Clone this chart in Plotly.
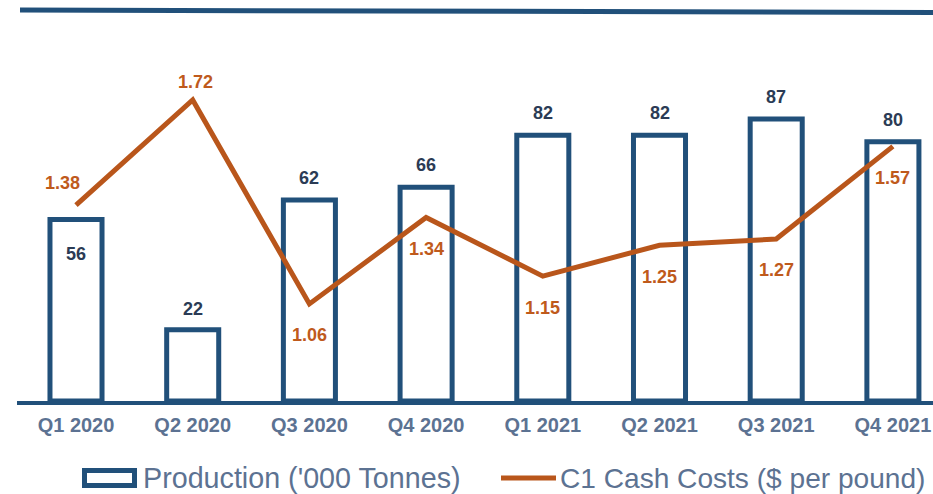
import plotly.graph_objects as go

quarters = ["Q1 2020", "Q2 2020", "Q3 2020", "Q4 2020", "Q1 2021", "Q2 2021", "Q3 2021", "Q4 2021"]
production = [56, 22, 62, 66, 82, 82, 87, 80]
cash_costs = [1.38, 1.72, 1.06, 1.34, 1.15, 1.25, 1.27, 1.57]

# label placement (style only)
prod_label_shift = [-34, 21, 22, 22, 22, 22, 22, 22]
cost_label_shift = [22, 18, -31, -32, -32, -32, -31, -32]
cost_label_xshift = [-14, 3, 0, 0, 0, 0, 0, 0]

NAVY = "#21507a"
ORANGE = "#b9561b"
LABEL_NAVY = "#2b3b55"
LABEL_ORANGE = "#bf5a1c"
GREY = "#5c7292"
FONT = "Liberation Sans, Arial, sans-serif"

W, H = 933, 494
L, T = 17, 10
B = H - 401
R = 0
pw, ph = W - L - R, H - T - B


def px_x(px):
    return (px - L) / pw


def px_y(py):
    return (H - B - py) / ph


fig = go.Figure()
fig.add_trace(go.Bar(
    x=quarters, y=production, name="Production ('000 Tonnes)",
    marker=dict(color="white", line=dict(color=NAVY, width=5)),
    width=0.446, yaxis="y", showlegend=False,
))
fig.add_trace(go.Scatter(
    x=quarters, y=cash_costs, name="C1 Cash Costs ($ per pound)",
    mode="lines", line=dict(color=ORANGE, width=5),
    yaxis="y2", showlegend=False, cliponaxis=False,
))

ann = []
for q, v, s in zip(quarters, production, prod_label_shift):
    ann.append(dict(x=q, y=v, xref="x", yref="y", text=str(v), showarrow=False,
                    yshift=s, font=dict(family=FONT, size=18, color=LABEL_NAVY, weight="bold")))
for q, v, s, xs in zip(quarters, cash_costs, cost_label_shift, cost_label_xshift):
    ann.append(dict(x=q, y=v, xref="x", yref="y2", text=f"{v:.2f}", showarrow=False,
                    yshift=s, xshift=xs, font=dict(family=FONT, size=18, color=LABEL_ORANGE, weight="bold")))

# custom legend
leg_y = 478
ann.append(dict(x=px_x(141), y=px_y(leg_y), xref="paper", yref="paper", xanchor="left", yanchor="middle",
                text="Production ('000 Tonnes)", showarrow=False,
                font=dict(family=FONT, size=28.7, color=GREY)))
ann.append(dict(x=px_x(558), y=px_y(leg_y), xref="paper", yref="paper", xanchor="left", yanchor="middle",
                text="C1 Cash Costs ($ per pound)", showarrow=False,
                font=dict(family=FONT, size=28.1, color=GREY)))

shapes = [
    # top rule
    dict(type="line", xref="paper", yref="paper", x0=px_x(20), x1=1, y0=px_y(10), y1=px_y(12.5),
         line=dict(color=NAVY, width=5)),
    # legend icons
    dict(type="rect", xref="paper", yref="paper", x0=px_x(84.5), x1=px_x(134.5), y0=px_y(470.5), y1=px_y(485.5),
         line=dict(color=NAVY, width=5), fillcolor="white"),
    dict(type="line", xref="paper", yref="paper", x0=px_x(501), x1=px_x(556), y0=px_y(leg_y), y1=px_y(leg_y),
         line=dict(color=ORANGE, width=5)),
]

y2_top = 1.72 + 90 / 309
y2_bot = y2_top - ph / 309
x0 = -59 / 116.7

fig.update_layout(
    width=W, height=H,
    margin=dict(l=L, r=R, t=T, b=B, pad=0),
    paper_bgcolor="white", plot_bgcolor="white",
    showlegend=False,
    annotations=ann, shapes=shapes,
    xaxis=dict(range=[x0, x0 + pw / 116.7], showgrid=False, zeroline=False,
               showline=True, linecolor=NAVY, linewidth=4, ticks="",
               tickfont=dict(family=FONT, size=20, color=GREY, weight="bold"),
               ticklabelstandoff=3),
    yaxis=dict(range=[0, ph / 3.24], visible=False, showgrid=False, zeroline=False),
    yaxis2=dict(range=[y2_bot, y2_top], overlaying="y", side="right", visible=False,
                showgrid=False, zeroline=False),
)

fig.write_html(
    "out.html",
    config={"displayModeBar": False},
    post_script="document.body.style.margin='0';document.body.style.overflow='hidden';",
)
